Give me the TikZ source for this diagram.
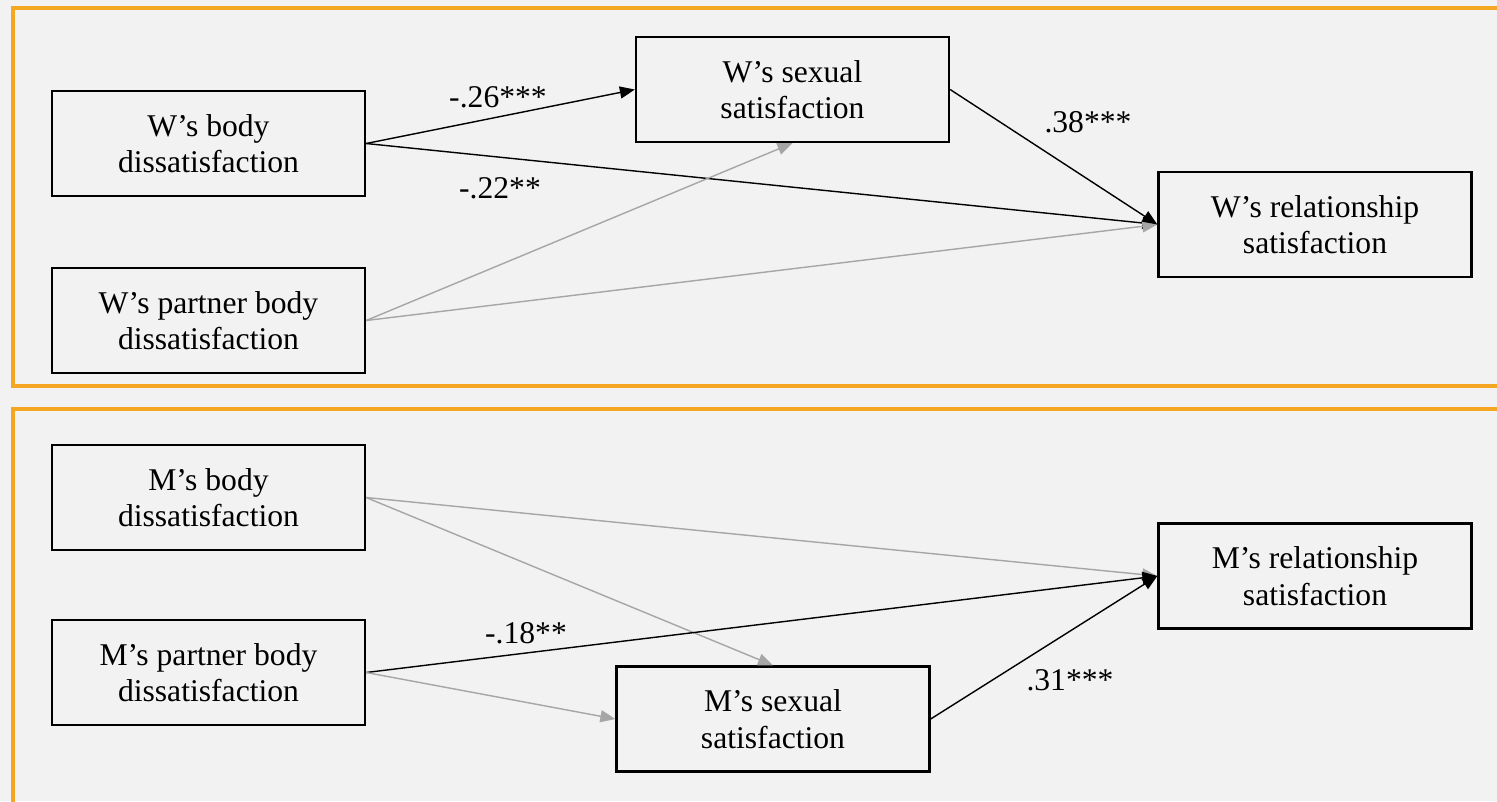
\documentclass[tikz,border=0pt]{standalone}
\usepackage{fontspec}
\setmainfont{Liberation Serif}
\usetikzlibrary{arrows.meta}

\definecolor{framecol}{RGB}{245,166,35}
\definecolor{bgcol}{RGB}{242,242,242}
\definecolor{nsline}{RGB}{166,166,166}

\tikzset{
  varbox/.style={draw, line width=0.65pt, minimum width=31.3mm, minimum height=10.5mm,
    align=center, font=\fontsize{9}{10.4}\selectfont, inner sep=0pt},
  sigpath/.style={line width=0.4pt, black, -{Triangle[length=1.5mm,width=1.2mm]}},
  nspath/.style={line width=0.4pt, nsline, -{Triangle[length=1.5mm,width=1.2mm]}},
  coef/.style={font=\fontsize{9}{10.4}\selectfont, inner sep=0pt}
}

\begin{document}
\begin{tikzpicture}[x=0.1mm,y=-0.1mm]
			\useasboundingbox (0,0) rectangle (1497,801);
			\fill[bgcol] (0,0) rectangle (1497,801);
			\begin{scope}
			\clip (0,0) rectangle (1497,801);
			\draw[framecol, line width=0.9pt] (13,8) rectangle (1520,386);
			\draw[framecol, line width=0.9pt] (13,409) rectangle (1520,830);
			\end{scope}
			% women
			\node[varbox] (wbody) at (208.5,143.5) {W’s body\\dissatisfaction};
			\node[varbox] (wpart) at (208.5,320.5) {W’s partner body\\dissatisfaction};
			\node[varbox] (wsex) at (792.5,89.5) {W’s sexual\\satisfaction};
			\node[varbox] (wrel) at (1315,224.5) {W’s relationship\\satisfaction};
			\draw[sigpath] (wbody.east) -- (wsex.west);
			\draw[sigpath] (wbody.east) -- (wrel.west);
			\draw[nspath] (wpart.east) -- (wsex.south);
			\draw[nspath] (wpart.east) -- (wrel.west);
			\draw[sigpath] (wsex.east) -- (wrel.west);
			\node[coef] (c1) at (498,97) {-.26***};
			\node[coef] (c2) at (500,188) {-.22**};
			\node[coef] (c3) at (1088,122) {.38***};
			% men
			\node[varbox] (mbody) at (208.5,497.5) {M’s body\\dissatisfaction};
			\node[varbox] (mpart) at (208.5,672.5) {M’s partner body\\dissatisfaction};
			\node[varbox] (msex) at (773,719) {M’s sexual\\satisfaction};
			\node[varbox] (mrel) at (1315,576) {M’s relationship\\satisfaction};
			\draw[nspath] (mbody.east) -- (mrel.west);
			\draw[nspath] (mbody.east) -- (msex.north);
			\draw[sigpath] (mpart.east) -- (mrel.west);
			\draw[nspath] (mpart.east) -- (msex.west);
			\draw[sigpath] (msex.east) -- (mrel.west);
			\node[coef] (c4) at (526,633) {-.18**};
			\node[coef] (c5) at (1070,680) {.31***};
		\end{tikzpicture}
\end{document}
